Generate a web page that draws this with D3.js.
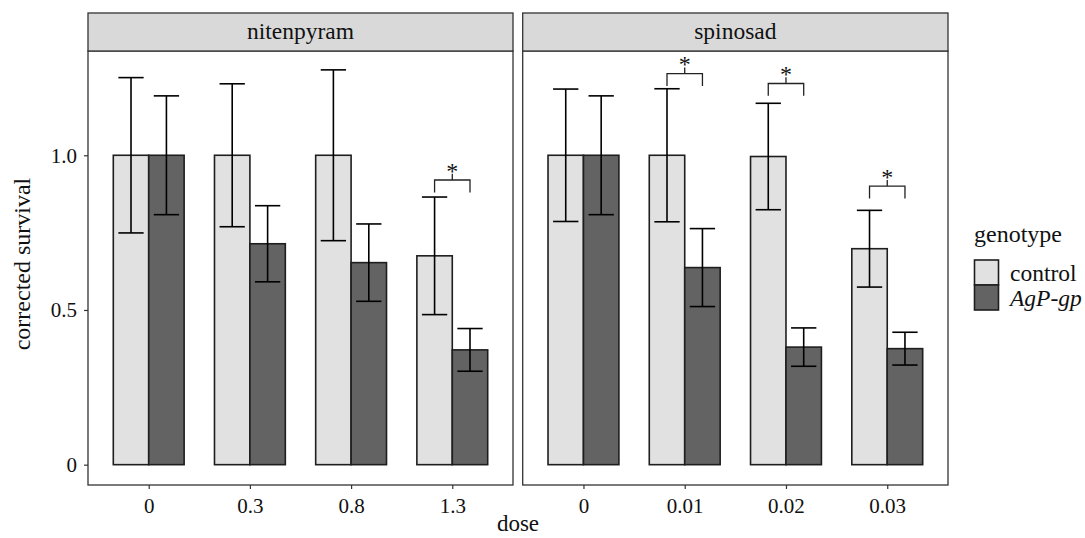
<!DOCTYPE html>
<html>
<head>
<meta charset="utf-8">
<script src="https://cdn.jsdelivr.net/npm/d3@7"></script>
<style>
  html, body { margin: 0; padding: 0; background: #fff; }
  svg { display: block; }
  svg text { font-family: "Liberation Serif", "Times New Roman", serif !important; fill: #111; }
</style>
</head>
<body>
<svg id="chart" width="1085" height="538" font-family="Liberation Serif, serif"></svg>
<script>
// ---------- data ----------
const panels = ["nitenpyram", "spinosad"];
const genotypes = ["control", "AgP-gp"];
const nitenpyramDoses = ["0", "0.3", "0.8", "1.3"];
const spinosadDoses = ["0", "0.01", "0.02", "0.03"];

const nitenpyramControl   = [1.0, 1.0, 1.0, 0.675];
const nitenpyramControlSE = [0.251, 0.231, 0.276, 0.190];
const nitenpyramAgP       = [1.0, 0.714, 0.653, 0.371];
const nitenpyramAgPSE     = [0.192, 0.123, 0.125, 0.069];

const spinosadControl     = [1.0, 1.0, 0.996, 0.698];
const spinosadControlSE   = [0.214, 0.215, 0.172, 0.124];
const spinosadAgP         = [1.0, 0.637, 0.380, 0.375];
const spinosadAgPSE       = [0.192, 0.126, 0.062, 0.053];

// significance brackets: panel, dose, bracket base value
const sigPanels = ["nitenpyram", "spinosad", "spinosad", "spinosad"];
const sigDoses  = ["1.3", "0.01", "0.02", "0.03"];
const sigBase   = [0.880, 1.224, 1.192, 0.860];

const yTicks = [0, 0.5, 1.0];
const yTickLabels = ["0", "0.5", "1.0"];

// ---------- layout ----------
const svg = d3.select("#chart");
const panelBoxes = {
  nitenpyram: { x0: 88, x1: 513 },
  spinosad:   { x0: 522.7, x1: 948 }
};
const panelTop = 51, panelBottom = 485, stripTop = 13;
const fillColor = { "control": "#e1e1e1", "AgP-gp": "#636363" };
const darkLine = "#333333";
const serif = "Liberation Serif, Times New Roman, serif";

const y = d3.scaleLinear().domain([-0.0657, 1.337]).range([panelBottom, panelTop]);

const panelData = {
  nitenpyram: { doses: nitenpyramDoses, control: nitenpyramControl, controlSE: nitenpyramControlSE, agp: nitenpyramAgP, agpSE: nitenpyramAgPSE },
  spinosad:   { doses: spinosadDoses, control: spinosadControl, controlSE: spinosadControlSE, agp: spinosadAgP, agpSE: spinosadAgPSE }
};

panels.forEach(p => {
  const box = panelBoxes[p];
  const pd = panelData[p];
  const x = d3.scalePoint().domain(pd.doses).range([box.x0, box.x1]).padding(0.6);
  const step = x.step();
  const barW = step * 0.35;
  const ebW = step * 0.25;

  const g = svg.append("g");

  g.append("rect").attr("x", box.x0).attr("y", panelTop)
    .attr("width", box.x1 - box.x0).attr("height", panelBottom - panelTop)
    .attr("fill", "#fff");

  const rows = [];
  pd.doses.forEach((d, i) => {
    rows.push({ dose: d, geno: "control", v: pd.control[i], se: pd.controlSE[i], off: -barW / 2 });
    rows.push({ dose: d, geno: "AgP-gp", v: pd.agp[i], se: pd.agpSE[i], off: barW / 2 });
  });

  g.selectAll("rect.bar").data(rows).join("rect")
    .attr("class", "bar")
    .attr("x", r => x(r.dose) + r.off - barW / 2)
    .attr("y", r => y(r.v))
    .attr("width", barW)
    .attr("height", r => y(0) - y(r.v))
    .attr("fill", r => fillColor[r.geno])
    .attr("stroke", "#1e1e1e")
    .attr("stroke-width", 1.6);

  const eb = g.selectAll("g.eb").data(rows).join("g").attr("class", "eb")
    .attr("stroke", "#000").attr("stroke-width", 1.6).attr("fill", "none");
  eb.append("line")
    .attr("x1", r => x(r.dose) + r.off).attr("x2", r => x(r.dose) + r.off)
    .attr("y1", r => y(r.v + r.se)).attr("y2", r => y(r.v - r.se));
  eb.append("line")
    .attr("x1", r => x(r.dose) + r.off - ebW / 2).attr("x2", r => x(r.dose) + r.off + ebW / 2)
    .attr("y1", r => y(r.v + r.se)).attr("y2", r => y(r.v + r.se));
  eb.append("line")
    .attr("x1", r => x(r.dose) + r.off - ebW / 2).attr("x2", r => x(r.dose) + r.off + ebW / 2)
    .attr("y1", r => y(r.v - r.se)).attr("y2", r => y(r.v - r.se));

  sigPanels.forEach((sp, i) => {
    if (sp !== p) return;
    const cx = x(sigDoses[i]);
    const xl = cx - barW / 2, xr = cx + barW / 2;
    const base = sigBase[i];
    const top = base + 0.04;
    const stem = top + 0.02;
    g.append("path")
      .attr("d", `M${xl},${y(base)}V${y(top)}H${xr}V${y(base)}M${cx},${y(top)}V${y(stem)}`)
      .attr("fill", "none").attr("stroke", "#222").attr("stroke-width", 1.3);
    g.append("text").attr("x", cx).attr("y", y(stem) + 5)
      .attr("text-anchor", "middle").attr("font-size", 24).attr("font-family", serif).text("*");
  });

  g.append("rect").attr("x", box.x0).attr("y", panelTop)
    .attr("width", box.x1 - box.x0).attr("height", panelBottom - panelTop)
    .attr("fill", "none").attr("stroke", darkLine).attr("stroke-width", 1.3);

  g.append("rect").attr("x", box.x0).attr("y", stripTop)
    .attr("width", box.x1 - box.x0).attr("height", panelTop - stripTop)
    .attr("fill", "#d9d9d9").attr("stroke", darkLine).attr("stroke-width", 1.3);
  g.append("text").attr("x", (box.x0 + box.x1) / 2).attr("y", 38.5)
    .attr("text-anchor", "middle").attr("font-size", 23.5).attr("font-family", serif).text(p);

  const xAxis = d3.axisBottom(x).tickSize(4).tickPadding(9);
  const ax = g.append("g").attr("transform", `translate(0,${panelBottom})`).call(xAxis)
    .attr("font-family", serif);
  ax.select(".domain").remove();
  ax.selectAll(".tick line").attr("stroke", darkLine).attr("stroke-width", 1.2);
  ax.selectAll(".tick text").attr("font-size", 21).attr("fill", "#111");

  if (p === panels[0]) {
    const yAxis = d3.axisLeft(y).tickValues(yTicks).tickFormat((d, i) => yTickLabels[i])
      .tickSize(4).tickPadding(7);
    const ay = g.append("g").attr("transform", `translate(${box.x0},0)`).call(yAxis)
      .attr("font-family", serif);
    ay.select(".domain").remove();
    ay.selectAll(".tick line").attr("stroke", darkLine).attr("stroke-width", 1.2);
    ay.selectAll(".tick text").attr("font-size", 21).attr("fill", "#111");
  }
});

svg.append("text").attr("x", 518).attr("y", 531)
  .attr("text-anchor", "middle").attr("font-size", 23).attr("font-family", serif).text("dose");
svg.append("text")
  .attr("transform", `translate(30,${(panelTop + panelBottom) / 2 - 4}) rotate(-90)`)
  .attr("text-anchor", "middle").attr("font-size", 24).attr("font-family", serif).text("corrected survival");

const lg = svg.append("g").attr("transform", "translate(974,0)");
lg.append("text").attr("x", 0).attr("y", 242).attr("font-size", 24).attr("font-family", serif).text("genotype");
genotypes.forEach((gname, i) => {
  lg.append("rect").attr("x", 0.5).attr("y", 260 + i * 25)
    .attr("width", 24).attr("height", 25)
    .attr("fill", fillColor[gname]).attr("stroke", "#1e1e1e").attr("stroke-width", 1.6);
  lg.append("text").attr("x", 36).attr("y", 281 + i * 24.5)
    .attr("font-size", 23.5).attr("font-family", serif)
    .attr("font-style", gname === "AgP-gp" ? "italic" : "normal")
    .text(gname);
});
</script>
</body>
</html>
